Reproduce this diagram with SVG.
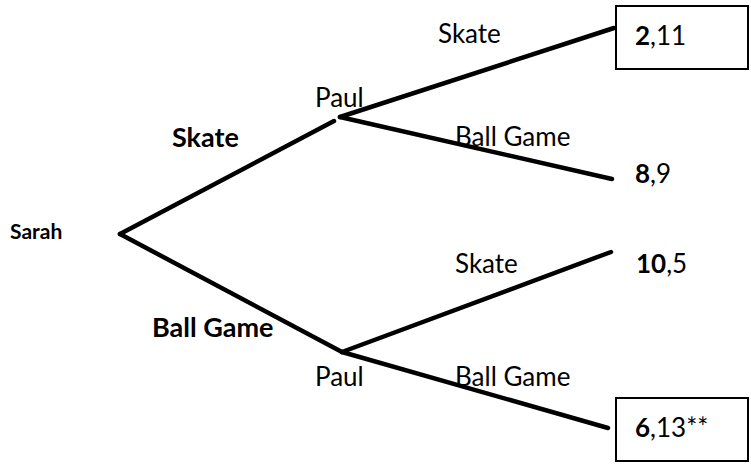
<svg xmlns="http://www.w3.org/2000/svg" width="751" height="466" viewBox="0 0 751 466">
<style>
.t{font-family:Lato,"Open Sans","Liberation Sans",sans-serif;font-size:26px;fill:#000}
.b{font-weight:bold}
.lb{font-size:27px}
.e{stroke:#000;stroke-width:4.5;fill:none;stroke-linecap:round}
.box{fill:#fff;stroke:#000;stroke-width:2}
</style>
<rect width="751" height="466" fill="#fff"/>
<g id="connectors">
<line class="e" x1="120" y1="234" x2="334" y2="121"/>
<line class="e" x1="340" y1="117" x2="614" y2="28"/>
<line class="e" x1="340" y1="117" x2="612" y2="179"/>
<line class="e" x1="120" y1="234" x2="342" y2="352"/>
<line class="e" x1="342" y1="352" x2="611" y2="252"/>
<line class="e" x1="342" y1="352" x2="608" y2="428"/>
</g>
<g id="sarah"><text class="t b" x="10" y="239" style="font-size:21px">Sarah</text></g>
<g id="edge-labels">
<text class="t b lb" x="172" y="147">Skate</text>
<text class="t b lb" x="152" y="337">Ball Game</text>
<text class="t" x="438" y="43">Skate</text>
<text class="t" x="455" y="146">Ball Game</text>
<text class="t" x="455" y="273">Skate</text>
<text class="t" x="455" y="386">Ball Game</text>
</g>
<g id="paul-top"><text class="t" x="315" y="107">Paul</text></g>
<g id="paul-bottom"><text class="t" x="315" y="386">Paul</text></g>
<g id="out1"><rect class="box" x="616" y="6" width="132" height="63"/><text class="t" x="635" y="45"><tspan class="b">2</tspan>,11</text></g>
<g id="out2"><text class="t" x="635" y="183"><tspan class="b">8</tspan>,9</text></g>
<g id="out3"><text class="t" x="636" y="273"><tspan class="b">10</tspan>,5</text></g>
<g id="out4"><rect class="box" x="616" y="398" width="132" height="63"/><text class="t" x="635" y="437"><tspan class="b">6</tspan>,13**</text></g>
</svg>
